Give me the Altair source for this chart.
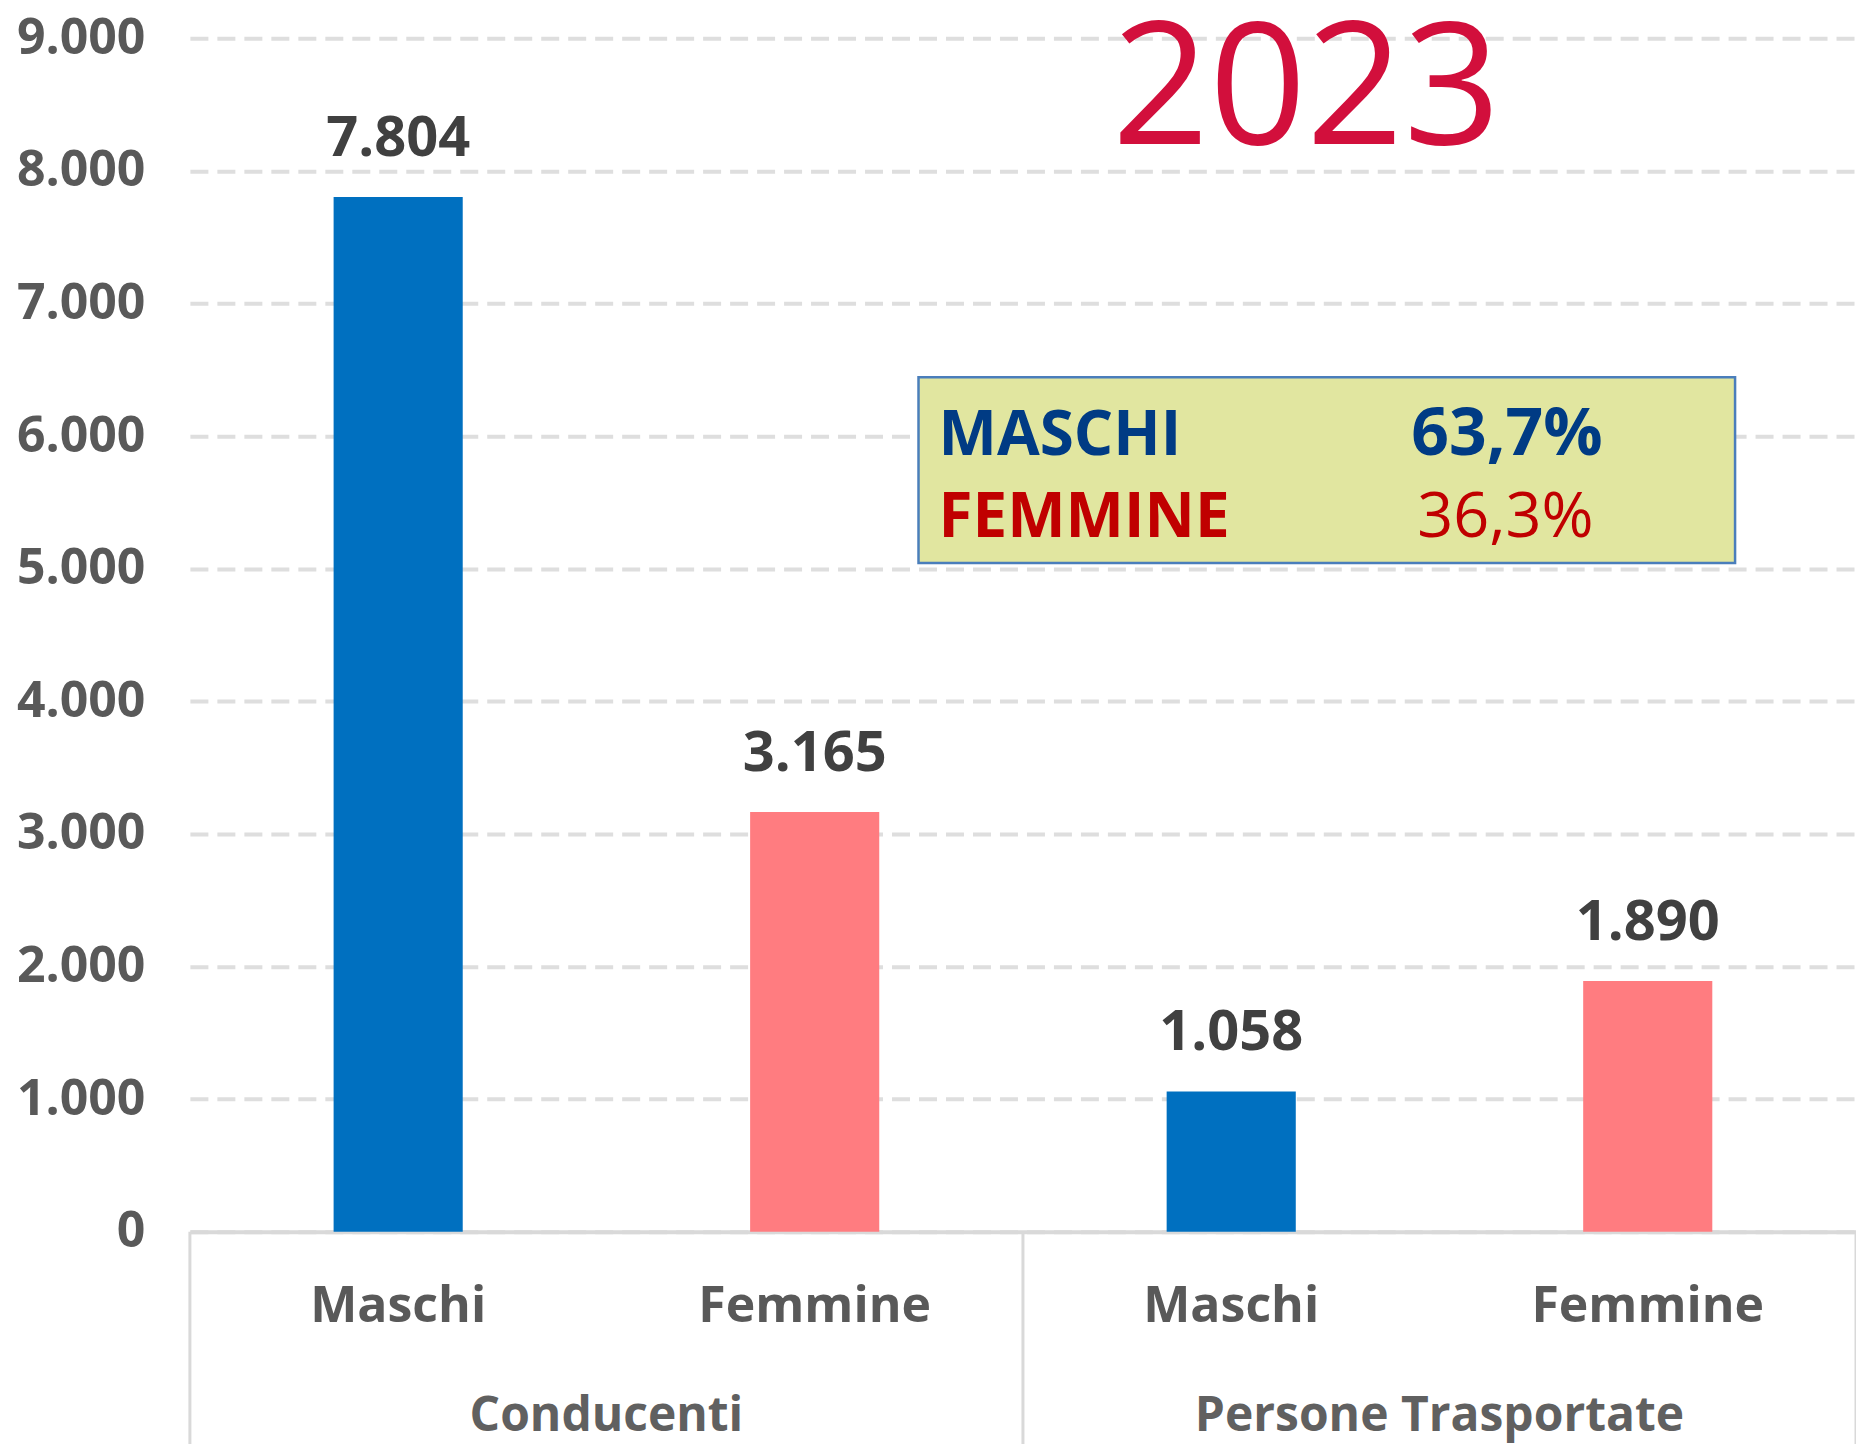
import altair as alt
import pandas as pd

# ---- data ----
groups = ["Conducenti", "Conducenti", "Persone Trasportate", "Persone Trasportate"]
sexes = ["Maschi", "Femmine", "Maschi", "Femmine"]
values = [7804, 3165, 1058, 1890]
group_names = ["Conducenti", "Persone Trasportate"]
year_label = "2023"
box_labels = ["MASCHI", "FEMMINE"]
box_pcts = ["63,7%", "36,3%"]

keys = [f"{g}|{s}" for g, s in zip(groups, sexes)]
df = pd.DataFrame({"key": keys, "group": groups, "sex": sexes, "value": values})

W, H = 1667, 1194
FONT = "Open Sans"

xscale = alt.Scale(domain=keys, paddingInner=0, paddingOuter=0)
xaxis = alt.Axis(
    title=None, labelExpr="split(datum.label, '|')[1]", labelAngle=0, labelLimit=0,
    labelFont=FONT, labelFontSize=50, labelFontWeight="bold", labelColor="#595959",
    labelPadding=50, ticks=False, tickSize=0, domainColor="#D9D9D9", domainWidth=4,
    grid=False, labelBaseline="top",
)
yscale = alt.Scale(domain=[0, 9000], nice=False)
yaxis = alt.Axis(
    title=None, values=list(range(0, 9001, 1000)), format=",d", labelLimit=0,
    labelFont=FONT, labelFontSize=50, labelFontWeight="bold", labelColor="#595959",
    labelPadding=45, ticks=False, tickSize=0, domain=False,
    gridColor="#DEDEDE", gridWidth=4, gridDash=[18, 9],
)


def X(**kw):
    return alt.X("key:N", scale=xscale, axis=xaxis, **kw)


base = alt.Chart(df)

bars = base.mark_bar(width=alt.RelativeBandSize(0.31)).encode(
    x=X(),
    y=alt.Y("value:Q", scale=yscale, axis=yaxis),
    color=alt.Color("sex:N", scale=alt.Scale(domain=["Maschi", "Femmine"],
                                             range=["#0070C0", "#FF7C80"]), legend=None),
)

labels = base.mark_text(font=FONT, fontSize=56, fontWeight="bold", color="#404040",
                        baseline="alphabetic", dy=-41).encode(
    x=X(), y=alt.Y("value:Q", scale=yscale), text=alt.Text("value:Q", format=",d"),
)

gdf = pd.DataFrame({"key": [keys[0], keys[2]], "name": group_names})
group_text = alt.Chart(gdf).mark_text(font=FONT, fontSize=48, fontWeight="bold",
                                      color="#606060", baseline="alphabetic").encode(
    x=X(bandPosition=1), y=alt.value(H + 199), text="name:N",
)

sep_left = alt.Chart(pd.DataFrame({"key": [keys[0], keys[2]]})).mark_rule(
    color="#D9D9D9", strokeWidth=3).encode(
    x=X(bandPosition=0), y=alt.value(H), y2=alt.value(H + 215),
)
sep_right = alt.Chart(pd.DataFrame({"key": [keys[3]]})).mark_rule(
    color="#D9D9D9", strokeWidth=3).encode(
    x=X(bandPosition=1), y=alt.value(H), y2=alt.value(H + 215),
)

year = alt.Chart(pd.DataFrame({"t": [year_label]})).mark_text(
    font=FONT, fontSize=170, fontWeight="normal", color="#D20F3C", align="center",
    baseline="alphabetic").encode(
    x=alt.value(1117), y=alt.value(106), text="t:N",
)

box = alt.Chart(pd.DataFrame({"a": [1]})).mark_rect(
    fill="#E1E6A0", stroke="#4A7EBB", strokeWidth=2.5).encode(
    x=alt.value(729), x2=alt.value(1546), y=alt.value(339), y2=alt.value(525),
)

BLUE_T, RED_T = "#003B84", "#C00000"
bdf = pd.DataFrame({"label": box_labels, "pct": box_pcts})
name_m = alt.Chart(bdf.iloc[[0]]).mark_text(
    font=FONT, fontSize=62, fontWeight="bold", align="left", baseline="alphabetic",
    color=BLUE_T).encode(x=alt.value(749), y=alt.value(417), text="label:N")
name_f = alt.Chart(bdf.iloc[[1]]).mark_text(
    font=FONT, fontSize=62, fontWeight="bold", align="left", baseline="alphabetic",
    color=RED_T).encode(x=alt.value(749), y=alt.value(499), text="label:N")
pct_m = alt.Chart(bdf.iloc[[0]]).mark_text(
    font=FONT, fontSize=66, fontWeight="bold", align="left", baseline="alphabetic",
    color=BLUE_T).encode(x=alt.value(1222), y=alt.value(417), text="pct:N")
pct_f = alt.Chart(bdf.iloc[[1]]).mark_text(
    font=FONT, fontSize=63, fontWeight="normal", align="left", baseline="alphabetic",
    color=RED_T).encode(x=alt.value(1228), y=alt.value(499), text="pct:N")

chart = alt.layer(
    bars, labels, group_text, sep_left, sep_right, year, box, name_m, name_f, pct_m, pct_f
).properties(
    width=W, height=H,
    padding={"left": 182, "top": 30, "right": 0, "bottom": 212},
    autosize=alt.AutoSizeParams(type="none"),
).configure(
    locale={"number": {"decimal": ",", "thousands": ".", "grouping": [3],
                       "currency": ["", " €"]}},
).configure_view(stroke=None)

chart.save("out.html", embed_options={"renderer": "svg", "actions": False})
